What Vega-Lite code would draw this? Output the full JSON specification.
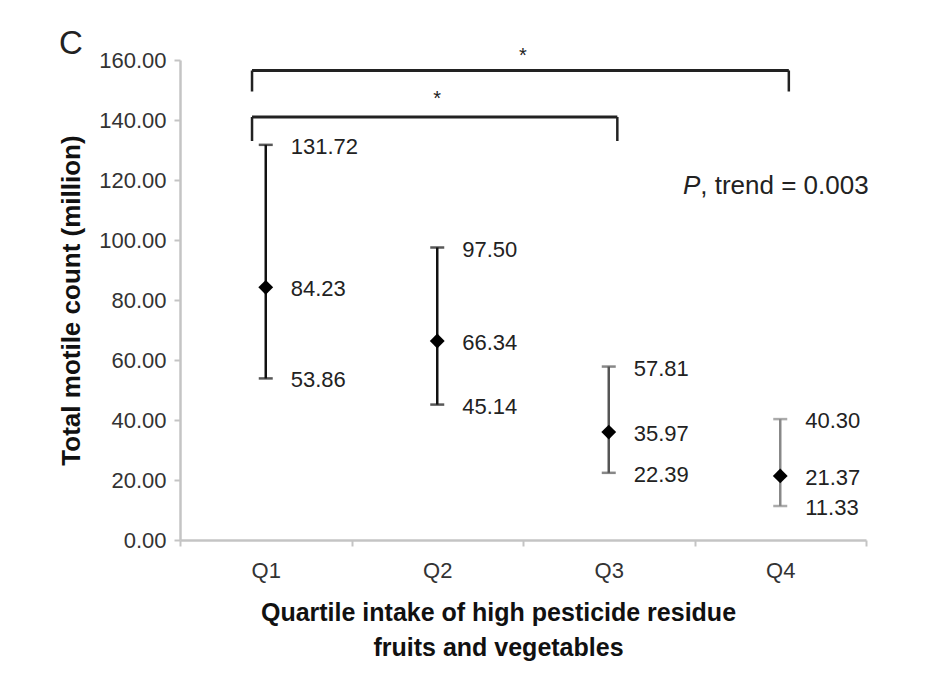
{
  "$schema": "https://vega.github.io/schema/vega-lite/v6.json",
  "width": 686,
  "height": 480,
  "autosize": {"type": "none"},
  "padding": {"left": 180, "top": 60, "right": 73, "bottom": 138},
  "background": "white",
  "title": {"text": "C", "anchor": "start", "frame": "group", "dx": -121, "dy": 15, "offset": 0, "fontSize": 33, "font": "Liberation Sans", "fontWeight": "normal", "color": "#222"},
  "config": {"view": {"stroke": null}, "font": "Liberation Sans"},
  "datasets": {
    "stats": [
      {"q": "Q1", "mean": 84.23, "lo": 53.86, "hi": 131.72},
      {"q": "Q2", "mean": 66.34, "lo": 45.14, "hi": 97.50},
      {"q": "Q3", "mean": 35.97, "lo": 22.39, "hi": 57.81},
      {"q": "Q4", "mean": 21.37, "lo": 11.33, "hi": 40.30}
    ],
    "brackets": [
      {"from": "Q1", "to": "Q4", "top": 156.5, "bottom": 149.5, "star": 161.5},
      {"from": "Q1", "to": "Q3", "top": 141, "bottom": 133, "star": 147}
    ],
    "note": [{"q": "Q4", "y": 118}]
  },
  "layer": [
    {
      "data": {"name": "stats"},
      "mark": {"type": "rule", "strokeWidth": 2.5},
      "encoding": {
        "x": {
          "field": "q", "type": "nominal",
          "scale": {"type": "band", "domain": ["Q1", "Q2", "Q3", "Q4"], "paddingInner": 0, "paddingOuter": 0},
          "axis": {
            "title": ["Quartile intake of high pesticide residue", "fruits and vegetables"],
            "labelAngle": 0, "tickBand": "extent",
            "domainColor": "#c4c4c4", "domainWidth": 2.5, "tickColor": "#c4c4c4", "tickWidth": 2, "tickSize": 6,
            "labelFontSize": 22, "labelPadding": 14, "labelColor": "#333",
            "titleFontSize": 25, "titleFontWeight": "bold", "titleColor": "#111", "titleLineHeight": 35, "titlePadding": 19,
            "titleX": 318, "titleAlign": "center"
          }
        },
        "y": {
          "field": "lo", "type": "quantitative",
          "scale": {"domain": [0, 160], "nice": false},
          "axis": {
            "title": "Total motile count (million)",
            "values": [0, 20, 40, 60, 80, 100, 120, 140, 160], "format": ".2f", "grid": false,
            "domainColor": "#c4c4c4", "domainWidth": 2.5, "tickColor": "#c4c4c4", "tickWidth": 2, "tickSize": 6,
            "labelFontSize": 22, "labelPadding": 8, "labelColor": "#333",
            "titleFontSize": 26, "titleFontWeight": "bold", "titleColor": "#111", "titlePadding": 14
          }
        },
        "y2": {"field": "hi"},
        "color": {"field": "q", "type": "nominal", "scale": {"domain": ["Q1", "Q2", "Q3", "Q4"], "range": ["#111111", "#111111", "#555555", "#888888"]}, "legend": null}
      }
    },
    {
      "data": {"name": "stats"},
      "transform": [{"fold": ["lo", "hi"], "as": ["k", "v"]}],
      "mark": {"type": "tick", "size": 14, "thickness": 2.5},
      "encoding": {
        "x": {"field": "q", "type": "nominal"},
        "y": {"field": "v", "type": "quantitative"},
        "color": {"field": "q", "type": "nominal", "legend": null}
      }
    },
    {
      "data": {"name": "stats"},
      "mark": {"type": "point", "shape": "diamond", "filled": true, "size": 220, "color": "#000", "opacity": 1},
      "encoding": {
        "x": {"field": "q", "type": "nominal"},
        "y": {"field": "mean", "type": "quantitative"}
      }
    },
    {
      "data": {"name": "stats"},
      "transform": [{"fold": ["lo", "mean", "hi"], "as": ["k", "v"]}],
      "mark": {"type": "text", "align": "left", "baseline": "middle", "dx": 25, "dy": 2, "fontSize": 22, "color": "#222"},
      "encoding": {
        "x": {"field": "q", "type": "nominal"},
        "y": {"field": "v", "type": "quantitative"},
        "text": {"field": "v", "type": "quantitative", "format": ".2f"}
      }
    },
    {
      "data": {"name": "brackets"},
      "mark": {"type": "rule", "strokeWidth": 3, "color": "#222"},
      "encoding": {
        "x": {"field": "from", "type": "nominal", "bandPosition": 0.42},
        "x2": {"field": "to", "bandPosition": 0.55},
        "y": {"field": "top", "type": "quantitative"}
      }
    },
    {
      "data": {"name": "brackets"},
      "mark": {"type": "rule", "strokeWidth": 2.5, "color": "#222"},
      "encoding": {
        "x": {"field": "from", "type": "nominal", "bandPosition": 0.42},
        "y": {"field": "top", "type": "quantitative"},
        "y2": {"field": "bottom"}
      }
    },
    {
      "data": {"name": "brackets"},
      "mark": {"type": "rule", "strokeWidth": 2.5, "color": "#222"},
      "encoding": {
        "x": {"field": "to", "type": "nominal", "bandPosition": 0.55},
        "y": {"field": "top", "type": "quantitative"},
        "y2": {"field": "bottom"}
      }
    },
    {
      "data": {"name": "brackets"},
      "transform": [{"filter": "datum.to === 'Q4'"}],
      "mark": {"type": "text", "text": "*", "fontSize": 20, "baseline": "middle", "align": "center", "color": "#222"},
      "encoding": {
        "x": {"field": "to", "type": "nominal", "bandPosition": -1},
        "y": {"field": "star", "type": "quantitative"}
      }
    },
    {
      "data": {"name": "brackets"},
      "transform": [{"filter": "datum.to === 'Q3'"}],
      "mark": {"type": "text", "text": "*", "fontSize": 20, "baseline": "middle", "align": "center", "color": "#222"},
      "encoding": {
        "x": {"field": "to", "type": "nominal", "bandPosition": -0.5},
        "y": {"field": "star", "type": "quantitative"}
      }
    },
    {
      "data": {"name": "note"},
      "mark": {"type": "text", "text": "P", "fontStyle": "italic", "align": "right", "baseline": "middle", "dx": -80, "fontSize": 26, "color": "#222"},
      "encoding": {
        "x": {"field": "q", "type": "nominal"},
        "y": {"field": "y", "type": "quantitative"}
      }
    },
    {
      "data": {"name": "note"},
      "mark": {"type": "text", "text": ", trend = 0.003", "align": "left", "baseline": "middle", "dx": -80, "fontSize": 26, "color": "#222"},
      "encoding": {
        "x": {"field": "q", "type": "nominal"},
        "y": {"field": "y", "type": "quantitative"}
      }
    }
  ]
}
